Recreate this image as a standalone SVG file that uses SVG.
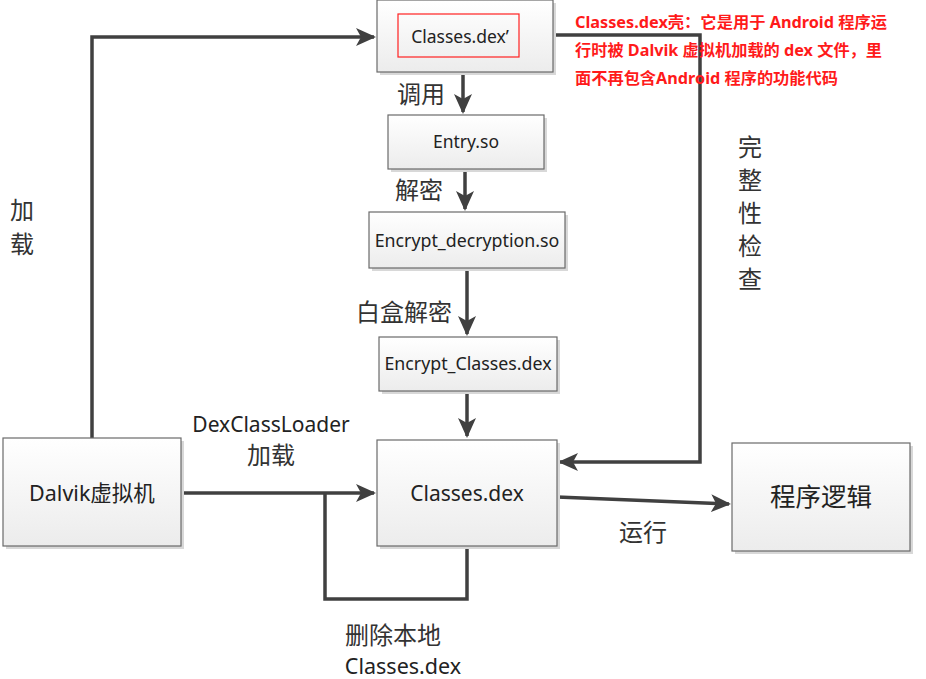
<svg xmlns="http://www.w3.org/2000/svg" width="926" height="679" viewBox="0 0 926 679">
<defs>
<linearGradient id="g" x1="0" y1="0" x2="0" y2="1">
<stop offset="0" stop-color="#ffffff"/>
<stop offset="1" stop-color="#ececec"/>
</linearGradient>
<marker id="ahb" markerWidth="20" markerHeight="18" refX="18" refY="9" orient="auto" markerUnits="userSpaceOnUse" viewBox="0 0 20 18">
<path d="M0,0 L20,9 L0,18 L5,9 z" fill="#404040"/>
</marker>
</defs>
<style>
.box{fill:url(#g);stroke:#6a6a6a;stroke-width:1.2}
.sh{fill:#d8d8d8}
.t{font-family:"Noto Sans","Noto Sans CJK SC",sans-serif;fill:#222;text-anchor:middle}
.lbl{font-family:"Noto Sans CJK SC","Noto Sans",sans-serif;fill:#333;text-anchor:middle;font-size:24px}
.ln{fill:none;stroke:#404040;stroke-width:3.5}
.red{font-family:"Noto Sans","Noto Sans CJK SC",sans-serif;font-weight:bold;fill:#ff1a1a;font-size:15.5px}
</style>
<rect width="926" height="679" fill="#ffffff"/>
<g id="connectors">
<path class="ln" d="M92,438 V37 H374" marker-end="url(#ahb)"/>
<path class="ln" d="M463,72 V112" marker-end="url(#ahb)"/>
<path class="ln" d="M465,169 V209" marker-end="url(#ahb)"/>
<path class="ln" d="M467,268 V334" marker-end="url(#ahb)"/>
<path class="ln" d="M467,391 V436" marker-end="url(#ahb)"/>
<path class="ln" d="M553,35 H700 V462 H560" marker-end="url(#ahb)"/>
<path class="ln" d="M181,493 H374" marker-end="url(#ahb)"/>
<path class="ln" d="M325,493 V599 H467 V546"/>
<path class="ln" d="M557,497 L729,504" marker-end="url(#ahb)"/>
</g>
<g id="node-shell">
<rect class="sh" x="380" y="3" width="176" height="72"/>
<rect class="box" x="377" y="0" width="176" height="72"/>
<rect x="398" y="14" width="121" height="43" fill="none" stroke="#ff2020" stroke-width="1.2"/>
<text class="t" x="460" y="43" font-size="17.5">Classes.dex’</text>
</g>
<g id="node-entry">
<rect class="sh" x="391" y="118" width="156" height="54"/>
<rect class="box" x="388" y="115" width="156" height="54"/>
<text class="t" x="466" y="148" font-size="17.5">Entry.so</text>
</g>
<g id="node-decrypt">
<rect class="sh" x="372" y="215" width="196" height="56"/>
<rect class="box" x="369" y="212" width="196" height="56"/>
<text class="t" x="467" y="247" font-size="17.8">Encrypt_decryption.so</text>
</g>
<g id="node-enc-classes">
<rect class="sh" x="382" y="340" width="178" height="54"/>
<rect class="box" x="379" y="337" width="178" height="54"/>
<text class="t" x="468" y="370" font-size="17.8">Encrypt_Classes.dex</text>
</g>
<g id="node-classes">
<rect class="sh" x="380" y="443" width="180" height="106"/>
<rect class="box" x="377" y="440" width="180" height="106"/>
<text class="t" x="467" y="501" font-size="21">Classes.dex</text>
</g>
<g id="node-dalvik">
<rect class="sh" x="6" y="441" width="178" height="108"/>
<rect class="box" x="3" y="438" width="178" height="108"/>
<text class="t" x="92" y="501" font-size="21.5">Dalvik虚拟机</text>
</g>
<g id="node-logic">
<rect class="sh" x="735" y="446" width="178" height="108"/>
<rect class="box" x="732" y="443" width="178" height="108"/>
<text class="t" x="821" y="506" font-size="25.5">程序逻辑</text>
</g>
<g id="labels">
<text class="lbl" x="421" y="103">调用</text>
<text class="lbl" x="419" y="199">解密</text>
<text class="lbl" x="404" y="321">白盒解密</text>
<text class="lbl" x="22" y="219">加</text>
<text class="lbl" x="22" y="253">载</text>
<text class="lbl" x="750" y="156">完</text>
<text class="lbl" x="750" y="189">整</text>
<text class="lbl" x="750" y="222">性</text>
<text class="lbl" x="750" y="255">检</text>
<text class="lbl" x="750" y="288">查</text>
<text class="t" x="271" y="432" font-size="21" fill="#333">DexClassLoader</text>
<text class="lbl" x="271" y="464">加载</text>
<text class="lbl" x="643" y="541">运行</text>
<text class="lbl" x="393" y="644">删除本地</text>
<text class="t" x="403" y="674" font-size="21.5" fill="#333">Classes.dex</text>
<text class="red" x="575" y="28" textLength="312" lengthAdjust="spacingAndGlyphs">Classes.dex壳：它是用于 Android 程序运</text>
<text class="red" x="575" y="56" textLength="307" lengthAdjust="spacingAndGlyphs">行时被 Dalvik 虚拟机加载的 dex 文件，里</text>
<text class="red" x="575" y="84" textLength="263" lengthAdjust="spacingAndGlyphs">面不再包含Android 程序的功能代码</text>
</g>
</svg>
